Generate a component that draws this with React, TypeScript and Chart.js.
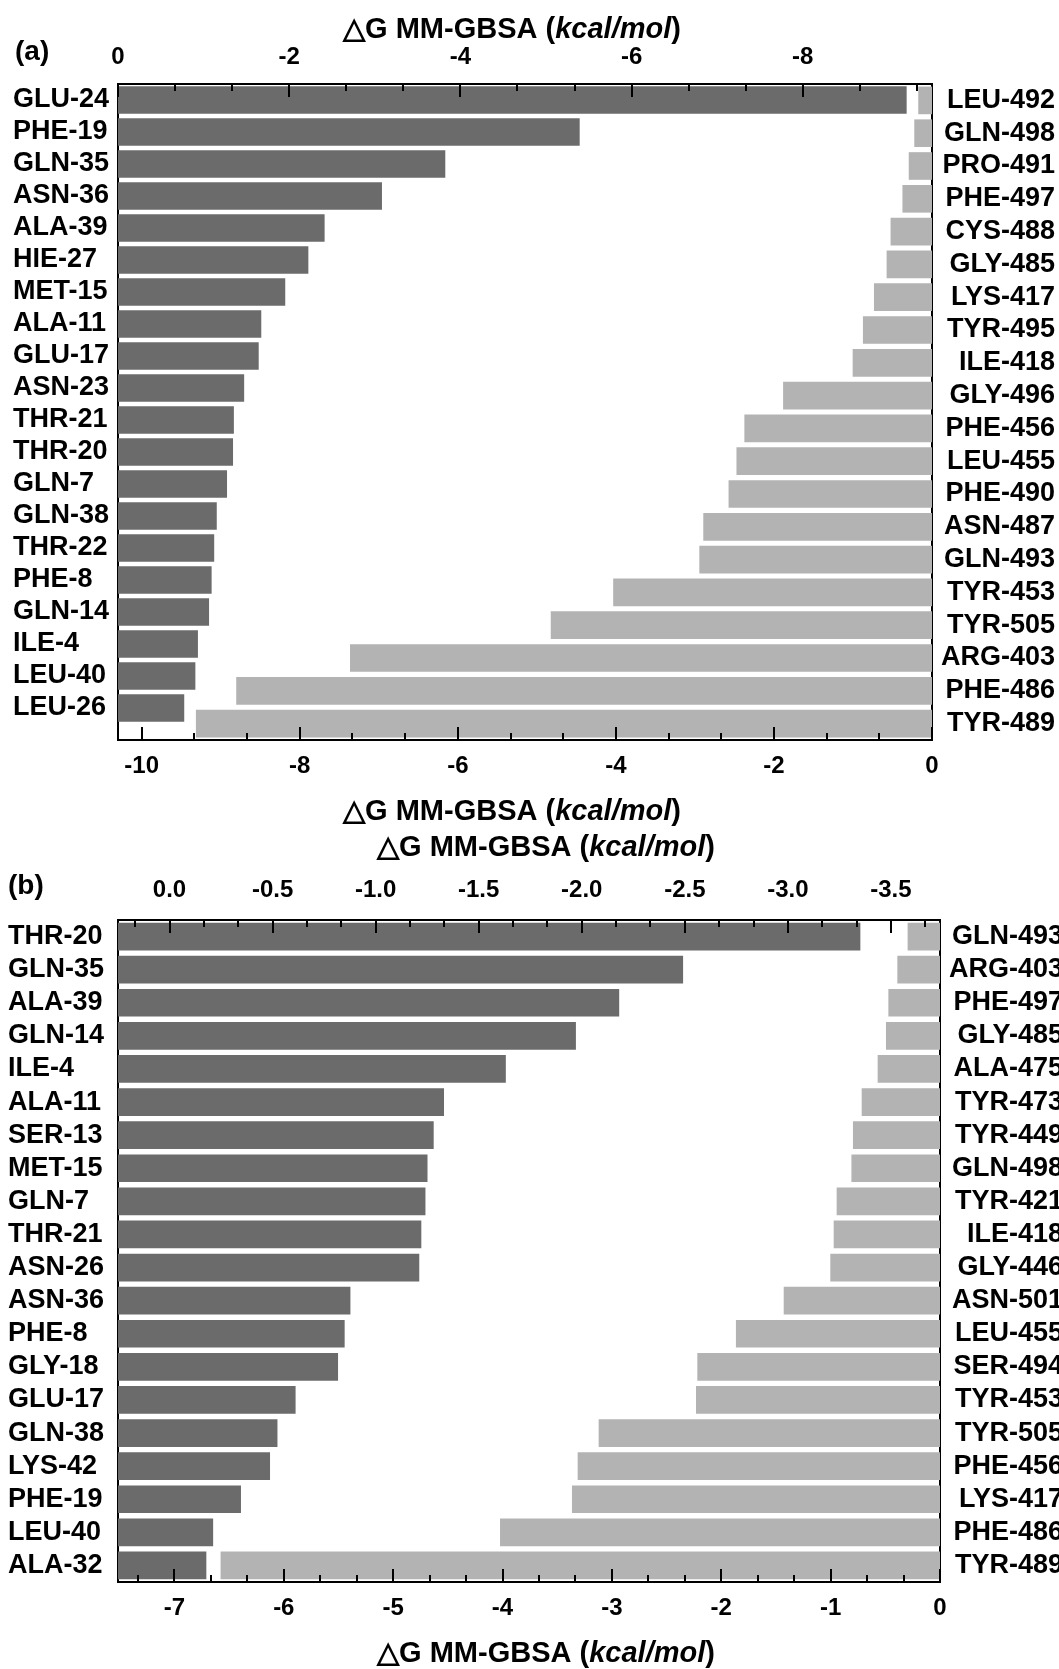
import React, { useEffect, useRef } from 'react';
import { Chart, registerables } from 'chart.js';

Chart.register(...registerables);

// ---------- Panel (a) data ----------
const aDarkLabels = ['GLU-24', 'PHE-19', 'GLN-35', 'ASN-36', 'ALA-39', 'HIE-27', 'MET-15', 'ALA-11', 'GLU-17', 'ASN-23', 'THR-21', 'THR-20', 'GLN-7', 'GLN-38', 'THR-22', 'PHE-8', 'GLN-14', 'ILE-4', 'LEU-40', 'LEU-26'];
const aDarkValues = [-9.21, -5.39, -3.82, -3.08, -2.41, -2.22, -1.95, -1.67, -1.64, -1.47, -1.35, -1.34, -1.27, -1.15, -1.12, -1.09, -1.06, -0.93, -0.9, -0.77];
const aLightLabels = ['LEU-492', 'GLN-498', 'PRO-491', 'PHE-497', 'CYS-488', 'GLY-485', 'LYS-417', 'TYR-495', 'ILE-418', 'GLY-496', 'PHE-456', 'LEU-455', 'PHE-490', 'ASN-487', 'GLN-493', 'TYR-453', 'TYR-505', 'ARG-403', 'PHE-486', 'TYR-489'];
const aLightValues = [-0.17, -0.22, -0.29, -0.37, -0.52, -0.57, -0.73, -0.87, -1.0, -1.88, -2.37, -2.47, -2.57, -2.89, -2.94, -4.03, -4.82, -7.36, -8.8, -9.31];
const aTopTicks = [0, -2, -4, -6, -8];
const aBottomTicks = [-10, -8, -6, -4, -2, 0];

// ---------- Panel (b) data ----------
const bDarkLabels = ['THR-20', 'GLN-35', 'ALA-39', 'GLN-14', 'ILE-4', 'ALA-11', 'SER-13', 'MET-15', 'GLN-7', 'THR-21', 'ASN-26', 'ASN-36', 'PHE-8', 'GLY-18', 'GLU-17', 'GLN-38', 'LYS-42', 'PHE-19', 'LEU-40', 'ALA-32'];
const bDarkValues = [-3.35, -2.49, -2.18, -1.97, -1.63, -1.33, -1.28, -1.25, -1.24, -1.22, -1.21, -0.876, -0.848, -0.816, -0.61, -0.522, -0.486, -0.345, -0.21, -0.177];
const bLightLabels = ['GLN-493', 'ARG-403', 'PHE-497', 'GLY-485', 'ALA-475', 'TYR-473', 'TYR-449', 'GLN-498', 'TYR-421', 'ILE-418', 'GLY-446', 'ASN-501', 'LEU-455', 'SER-494', 'TYR-453', 'TYR-505', 'PHE-456', 'LYS-417', 'PHE-486', 'TYR-489'];
const bLightValues = [-0.293, -0.387, -0.469, -0.491, -0.567, -0.713, -0.793, -0.807, -0.942, -0.969, -1.0, -1.426, -1.863, -2.216, -2.228, -3.118, -3.31, -3.362, -4.02, -6.575];
const bTopTicks = [0, -0.5, -1, -1.5, -2, -2.5, -3, -3.5];
const bBottomTicks = [-7, -6, -5, -4, -3, -2, -1, 0];

const FONT = "'Liberation Sans', Arial, Helvetica, sans-serif";
const DARK = '#6b6b6b';
const LIGHT = '#b3b3b3';

type PanelCfg = {
  pageTop: number;
  width: number;
  height: number;
  area: { left: number; right: number; top: number; bottom: number };
  pad: { left: number; right: number };
  darkLabels: string[];
  darkValues: number[];
  lightLabels: string[];
  lightValues: number[];
  darkBase: number;
  topMin: number;
  topMax: number;
  bottomMin: number;
  bottomMax: number;
  leftMax: number;
  rightMax: number;
  topTicks: number[];
  bottomTicks: number[];
  topDecimals: number;
  topTickPad: number;
  bottomTickPad: number;
  labelSize: number;
  tickSize: number;
  titles: { x: number; y: number }[];
  panelLabel: { text: string; x: number; y: number };
};

const A: PanelCfg = {
  pageTop: 0,
  width: 1059,
  height: 830,
  area: { left: 118, right: 932, top: 84, bottom: 740 },
  pad: { left: 13, right: 4 },
  darkLabels: aDarkLabels,
  darkValues: aDarkValues,
  lightLabels: aLightLabels,
  lightValues: aLightValues,
  darkBase: 0,
  topMin: -9.51,
  topMax: 0,
  bottomMin: -10.3,
  bottomMax: 0,
  leftMax: 20.0,
  rightMax: 19.5,
  topTicks: aTopTicks,
  bottomTicks: aBottomTicks,
  topDecimals: 0,
  topTickPad: 15,
  bottomTickPad: 14,
  labelSize: 27,
  tickSize: 24,
  titles: [
    { x: 512, y: 30 },
    { x: 512, y: 812 },
  ],
  panelLabel: { text: '(a)', x: 15, y: 52 },
};

const B: PanelCfg = {
  pageTop: 820,
  width: 1070,
  height: 849,
  area: { left: 118, right: 940, top: 100, bottom: 762 },
  pad: { left: 8, right: 7 },
  darkLabels: bDarkLabels,
  darkValues: bDarkValues,
  lightLabels: bLightLabels,
  lightValues: bLightValues,
  darkBase: 0.25,
  topMin: -3.738,
  topMax: 0.25,
  bottomMin: -7.516,
  bottomMax: 0,
  leftMax: 19.5,
  rightMax: 19.5,
  topTicks: bTopTicks,
  bottomTicks: bBottomTicks,
  topDecimals: 1,
  topTickPad: 18,
  bottomTickPad: 14,
  labelSize: 27,
  tickSize: 24,
  titles: [
    { x: 546, y: 28 },
    { x: 546, y: 834 },
  ],
  panelLabel: { text: '(b)', x: 8, y: 66 },
};

function minorTicks(majors: number[], min: number, max: number, per: number) {
  const step = Math.abs(majors[1] - majors[0]) / (per + 1);
  const base = majors[0];
  const out: number[] = [];
  const n = Math.ceil((max - min) / step) + 4;
  for (let k = -n; k <= n; k++) {
    if (k % (per + 1) === 0) continue;
    const v = base + k * step;
    if (v > min + 1e-6 && v < max - 1e-6) out.push(v);
  }
  return out;
}

function drawTitle(ctx: CanvasRenderingContext2D, cx: number, cy: number) {
  const size = 29;
  const parts = [
    { t: '\u25B3G MM-GBSA (', f: `bold ${size}px ${FONT}` },
    { t: 'kcal/mol', f: `italic bold ${size}px ${FONT}` },
    { t: ')', f: `bold ${size}px ${FONT}` },
  ];
  let total = 0;
  const widths = parts.map((p) => {
    ctx.font = p.f;
    const w = ctx.measureText(p.t).width;
    total += w;
    return w;
  });
  let x = cx - total / 2;
  ctx.textBaseline = 'middle';
  ctx.textAlign = 'left';
  ctx.fillStyle = '#000';
  parts.forEach((p, i) => {
    ctx.font = p.f;
    ctx.fillText(p.t, x, cy);
    x += widths[i];
  });
}

function buildConfig(cfg: PanelCfg): any {
  const decor = {
    id: 'decor',
    afterDraw(chart: any) {
      const ctx = chart.ctx as CanvasRenderingContext2D;
      const a = chart.chartArea;
      const xTop = chart.scales.xTop;
      const xBottom = chart.scales.xBottom;
      ctx.save();
      ctx.strokeStyle = '#000';
      ctx.lineWidth = 2;
      const draw = (scale: any, values: number[], len: number, atTop: boolean) => {
        values.forEach((v) => {
          const x = Math.round(scale.getPixelForValue(v));
          if (x < a.left - 1 || x > a.right + 1) return;
          ctx.beginPath();
          if (atTop) {
            ctx.moveTo(x, a.top);
            ctx.lineTo(x, a.top + len);
          } else {
            ctx.moveTo(x, a.bottom);
            ctx.lineTo(x, a.bottom - len);
          }
          ctx.stroke();
        });
      };
      draw(xTop, cfg.topTicks, 13, true);
      draw(xTop, minorTicks(cfg.topTicks, cfg.topMin, cfg.topMax, 2), 7, true);
      draw(xBottom, cfg.bottomTicks, 13, false);
      draw(xBottom, minorTicks(cfg.bottomTicks, cfg.bottomMin, cfg.bottomMax, 2), 7, false);
      cfg.titles.forEach((t) => drawTitle(ctx, t.x, t.y));
      ctx.font = `bold 28px ${FONT}`;
      ctx.textAlign = 'left';
      ctx.textBaseline = 'middle';
      ctx.fillStyle = '#000';
      ctx.fillText(cfg.panelLabel.text, cfg.panelLabel.x, cfg.panelLabel.y);
      ctx.restore();
    },
  };

  const border = { display: true, color: '#000', width: 2 };
  const grid = { display: false, drawTicks: false, tickLength: 0 };
  const tickFont = { family: FONT, size: cfg.tickSize, weight: 'bold', lineHeight: 1 };
  const labelFont = { family: FONT, size: cfg.labelSize, weight: 'bold', lineHeight: 1 };

  return {
    type: 'bar',
    data: {
      datasets: [
        {
          data: cfg.darkValues.map((v, i) => ({ x: v, y: i })),
          xAxisID: 'xTop',
          yAxisID: 'yLeft',
          backgroundColor: DARK,
          base: cfg.darkBase,
          barThickness: 27,
          grouped: false,
          borderWidth: 0,
        },
        {
          data: cfg.lightValues.map((v, i) => ({ x: v, y: i })),
          xAxisID: 'xBottom',
          yAxisID: 'yRight',
          backgroundColor: LIGHT,
          barThickness: 27,
          grouped: false,
          borderWidth: 0,
        },
      ],
    },
    options: {
      indexAxis: 'y',
      responsive: false,
      animation: false,
      devicePixelRatio: 1,
      layout: { padding: { left: cfg.pad.left, right: cfg.pad.right, top: 0, bottom: 0 } },
      plugins: { legend: { display: false }, tooltip: { enabled: false }, title: { display: false } },
      scales: {
        xTop: {
          type: 'linear',
          position: 'top',
          axis: 'x',
          reverse: true,
          offset: false,
          min: cfg.topMin,
          max: cfg.topMax,
          z: 1,
          grid,
          border,
          afterBuildTicks: (s: any) => {
            s.ticks = cfg.topTicks.map((v) => ({ value: v }));
          },
          afterFit: (s: any) => {
            s.height = cfg.area.top;
          },
          ticks: {
            color: '#000',
            font: tickFont,
            padding: cfg.topTickPad,
            autoSkip: false,
            maxRotation: 0,
            minRotation: 0,
            callback: (v: number) => (v === 0 ? (cfg.topDecimals ? '0.0' : '0') : v.toFixed(cfg.topDecimals)),
          },
        },
        xBottom: {
          type: 'linear',
          position: 'bottom',
          axis: 'x',
          offset: false,
          min: cfg.bottomMin,
          max: cfg.bottomMax,
          z: 1,
          grid,
          border,
          afterBuildTicks: (s: any) => {
            s.ticks = cfg.bottomTicks.map((v) => ({ value: v }));
          },
          afterFit: (s: any) => {
            s.height = cfg.height - cfg.area.bottom;
          },
          ticks: {
            color: '#000',
            font: tickFont,
            padding: cfg.bottomTickPad,
            autoSkip: false,
            maxRotation: 0,
            minRotation: 0,
            callback: (v: number) => (v === 0 ? '0' : String(v)),
          },
        },
        yLeft: {
          type: 'linear',
          position: 'left',
          axis: 'y',
          reverse: true,
          offset: false,
          min: -0.5,
          max: cfg.leftMax,
          z: 1,
          grid,
          border,
          afterBuildTicks: (s: any) => {
            s.ticks = cfg.darkLabels.map((_, i) => ({ value: i }));
          },
          afterFit: (s: any) => {
            s.width = cfg.area.left - cfg.pad.left;
          },
          ticks: {
            color: '#000',
            font: labelFont,
            crossAlign: 'far',
            autoSkip: false,
            padding: 0,
            callback: (v: number) => cfg.darkLabels[v] ?? '',
          },
        },
        yRight: {
          type: 'linear',
          position: 'right',
          axis: 'y',
          reverse: true,
          offset: false,
          min: -0.5,
          max: cfg.rightMax,
          z: 1,
          grid,
          border,
          afterBuildTicks: (s: any) => {
            s.ticks = cfg.lightLabels.map((_, i) => ({ value: i }));
          },
          afterFit: (s: any) => {
            s.width = cfg.width - cfg.pad.right - cfg.area.right;
          },
          ticks: {
            color: '#000',
            font: labelFont,
            crossAlign: 'far',
            autoSkip: false,
            padding: 0,
            callback: (v: number) => cfg.lightLabels[v] ?? '',
          },
        },
      },
    },
    plugins: [decor],
  };
}

function Panel({ cfg }: { cfg: PanelCfg }) {
  const ref = useRef<HTMLCanvasElement>(null);
  useEffect(() => {
    if (!ref.current) return;
    const chart = new Chart(ref.current, buildConfig(cfg));
    return () => chart.destroy();
  }, [cfg]);
  return (
    <canvas
      ref={ref}
      width={cfg.width}
      height={cfg.height}
      style={{ position: 'absolute', left: 0, top: cfg.pageTop, width: cfg.width, height: cfg.height }}
    />
  );
}

export default function App() {
  return (
    <div
      style={{
        position: 'absolute',
        left: 0,
        top: 0,
        width: 1059,
        height: 1669,
        overflow: 'hidden',
        background: '#fff',
      }}
    >
      <Panel cfg={A} />
      <Panel cfg={B} />
    </div>
  );
}
